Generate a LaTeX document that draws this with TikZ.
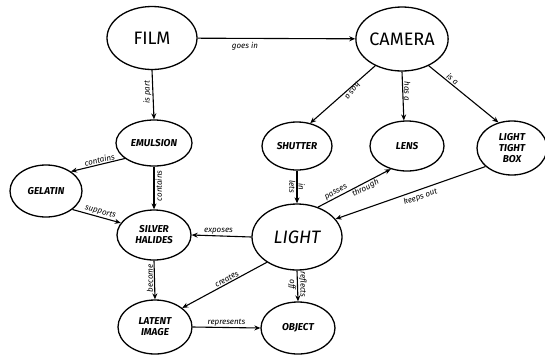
\documentclass[tikz,border=0pt]{standalone}
\usepackage{fontspec}
\setmainfont{Fira Sans}
\usetikzlibrary{shapes.geometric,arrows.meta}
\tikzset{
  concept/.style={draw, ellipse, line width=1.3pt, inner sep=0pt, align=center},
  big/.style={concept, font=\fontsize{18}{18}\selectfont},
  small/.style={concept, font=\fontsize{10}{11}\selectfont\bfseries\itshape},
  link/.style={draw, line width=1.1pt, -{Stealth[length=6pt,width=5pt]}},
  lbl/.style={font=\fontsize{8}{8}\selectfont\itshape, inner sep=1pt}
}
\begin{document}
\begin{tikzpicture}[x=1pt,y=-1pt]
\useasboundingbox (0,0) rectangle (545,354);
% nodes
\node[big, minimum width=90pt, minimum height=63pt] (film) at (152,38) {FILM};
\node[big, minimum width=90pt, minimum height=64pt] (camera) at (402,39) {CAMERA};
\node[small, minimum width=76pt, minimum height=46pt] (emulsion) at (154,143) {EMULSION};
\node[small, minimum width=70pt, minimum height=48pt] (shutter) at (297,146) {SHUTTER};
\node[small, minimum width=74pt, minimum height=50pt] (lens) at (407,146) {LENS};
\node[small, minimum width=70pt, minimum height=54pt] (box) at (512,148) {LIGHT\\TIGHT\\BOX};
\node[small, minimum width=72pt, minimum height=52pt] (gelatin) at (46,191) {GELATIN};
\node[small, minimum width=74pt, minimum height=50pt] (silver) at (154,235) {SILVER\\HALIDES};
\node[big, minimum width=90pt, minimum height=66pt] (light) at (297,237) {\itshape LIGHT};
\node[small, minimum width=74pt, minimum height=54pt] (latent) at (155,327) {LATENT\\IMAGE};
\node[small, minimum width=74pt, minimum height=52pt] (object) at (298,328) {OBJECT};
% connectors
\draw[link] (film) -- node[lbl, below=2pt, pos=0.3] {goes in} (camera);
\draw[link] (film.south) -- node[lbl, rotate=90, anchor=south, pos=0.45] {is part} (emulsion.north);
\draw[link] (camera.225) -- node[lbl, rotate=-127, anchor=south, pos=0.4] {has a} (shutter.60);
\draw[link] (camera.south) -- node[lbl, rotate=-90, anchor=south, pos=0.4] {has a} (lens.97);
\draw[link] (camera.-45) -- node[lbl, sloped, above, pos=0.3] {is a} (box.118);
\draw[link] (emulsion.208) -- node[lbl, sloped, above, pos=0.45] {contains} (gelatin.38);
\draw[link] (emulsion.south) -- node[lbl, rotate=90, anchor=north, pos=0.45] {contains} (silver.north);
\draw[link] (gelatin.-35) -- node[lbl, sloped, above, pos=0.55] {supports} (silver.160);
\draw[link] (light.west) -- node[lbl, above, pos=0.55] {exposes} (silver.east);
\draw[link] (silver.south) -- node[lbl, rotate=90, anchor=south, pos=0.45] {become} (latent.north);
\draw[link] (light.220) -- node[lbl, sloped, above, pos=0.45] {creates} (latent.35);
\draw[link] (latent.east) -- node[lbl, above, pos=0.5] {represents} (object.west);
\draw[link] (shutter.south) -- node[lbl, rotate=-90, anchor=north, pos=0.5] {lets} node[lbl, rotate=-90, anchor=south, pos=0.5] {in} (light.north);
\draw[link] (light.55) -- node[lbl, sloped, above, pos=0.28] {passes} node[lbl, sloped, below, pos=0.62] {through} (lens.235);
\draw[link] (box.215) -- node[lbl, sloped, below=2pt, pos=0.45] {keeps out} (light.25);
\draw[link] (light.south) -- node[lbl, rotate=-90, anchor=north, pos=0.45] {off} node[lbl, rotate=-90, anchor=south, pos=0.45] {reflects} (object.north);
\end{tikzpicture}
\end{document}
